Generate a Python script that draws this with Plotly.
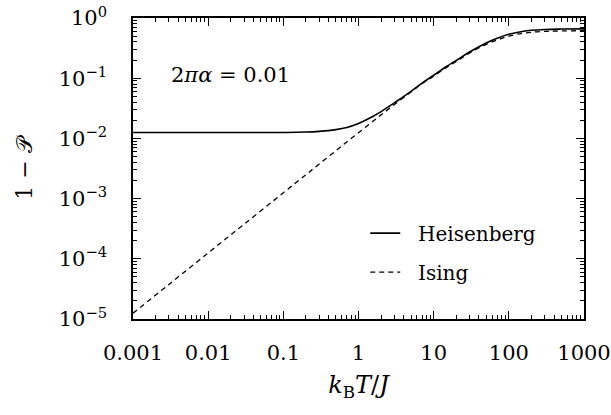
import plotly.graph_objects as go

# temperature k_B T / J and 1 - P
x_vals = [0.001, 0.003, 0.01, 0.03, 0.1, 0.2, 0.3, 0.5, 0.7, 1, 1.5, 2, 3, 5, 7, 10, 15, 20, 30, 50, 70, 100, 150, 200, 300, 500, 1000]
heisenberg = [0.0125, 0.0125, 0.0125, 0.01251, 0.01256, 0.01275, 0.0131, 0.0140, 0.0152, 0.0177, 0.0226, 0.0278, 0.0390, 0.0605, 0.083, 0.112, 0.158, 0.197, 0.272, 0.385, 0.46, 0.535, 0.595, 0.625, 0.645, 0.655, 0.66]
ising = [1.25e-5, 3.75e-5, 1.25e-4, 3.75e-4, 1.25e-3, 2.5e-3, 3.75e-3, 6.25e-3, 8.75e-3, 0.0124, 0.0186, 0.0246, 0.0365, 0.059, 0.081, 0.108, 0.152, 0.19, 0.262, 0.365, 0.43, 0.5, 0.555, 0.58, 0.598, 0.61, 0.615]

x_tickvals = [0.001, 0.01, 0.1, 1, 10, 100, 1000]
x_ticktext = ["0.001", "0.01", "0.1", "1", "10", "100", "1000"]
y_tickvals = [1e-5, 1e-4, 1e-3, 1e-2, 1e-1, 1]
y_ticktext = ["10<sup>−5</sup>", "10<sup>−4</sup>", "10<sup>−3</sup>", "10<sup>−2</sup>", "10<sup>−1</sup>", "10<sup>0</sup>"]
x_minor = [m * 10.0 ** e for e in range(-3, 3) for m in range(2, 10)]
y_minor = [m * 10.0 ** e for e in range(-5, 0) for m in range(2, 10)]

label_x = [0.0032]
label_y = [0.105]
label_text = ["2<i>πα</i>\u00a0=\u00a00.01"]

serif = "DejaVu Serif"

fig = go.Figure()
fig.add_trace(go.Scatter(x=x_vals, y=heisenberg, mode="lines", name="\u00a0\u00a0Heisenberg",
                         legendgroup="h",
                         line=dict(color="black", width=1.6, shape="spline")))
fig.add_trace(go.Scatter(x=x_vals, y=ising, mode="lines", name="\u00a0\u00a0Ising",
                         legendgroup="i",
                         line=dict(color="black", width=1.3, dash="5px,4px", shape="spline")))
fig.add_trace(go.Scatter(x=label_x, y=label_y, mode="text", text=label_text, showlegend=False,
                         textposition="middle right", hoverinfo="skip",
                         textfont=dict(family=serif, size=21, color="black")))

fig.update_layout(
    xaxis=dict(type="log", range=[-3, 3], tickmode="array", tickvals=x_tickvals, ticktext=x_ticktext,
               ticks="inside", ticklen=8, tickwidth=1.2, tickcolor="black", ticklabelstandoff=14,
               showline=True, linecolor="black", linewidth=1.5, mirror="allticks", showgrid=False,
               zeroline=False, automargin=False,
               minor=dict(tickmode="array", tickvals=x_minor, ticks="inside", ticklen=4,
                          tickwidth=1, tickcolor="black", showgrid=False),
               tickfont=dict(family=serif, size=21, color="black"),
               title=dict(text="<i>k</i><sub>B</sub><i>T</i>/<i>J</i>", standoff=12,
                          font=dict(family=serif, size=24, color="black"))),
    yaxis=dict(type="log", range=[-5, 0], tickmode="array", tickvals=y_tickvals, ticktext=y_ticktext,
               ticks="inside", ticklen=8, tickwidth=1.2, tickcolor="black", ticklabelstandoff=20,
               showline=True, linecolor="black", linewidth=1.5, mirror="allticks", showgrid=False,
               zeroline=False, automargin=False,
               minor=dict(tickmode="array", tickvals=y_minor, ticks="inside", ticklen=4,
                          tickwidth=1, tickcolor="black", showgrid=False),
               tickfont=dict(family=serif, size=21, color="black"),
               title=dict(text="1 − 𝒫", standoff=20,
                          font=dict(family=serif, size=22, color="black"))),
)

fig.update_layout(
    width=611, height=415, plot_bgcolor="white", paper_bgcolor="white",
    margin=dict(l=133, r=27, t=18, b=96, autoexpand=False),
    legend=dict(x=0.515, y=0.35, xanchor="left", yanchor="top", bgcolor="rgba(0,0,0,0)",
                tracegroupgap=10,
                font=dict(family=serif, size=20, color="black")),
)

fig.write_html("out.html")
